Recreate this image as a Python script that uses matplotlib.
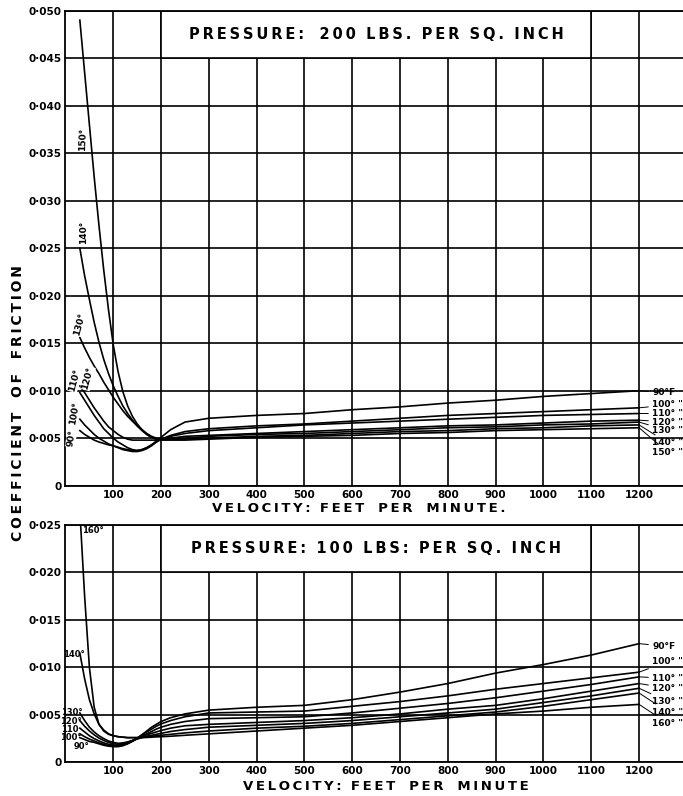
import matplotlib
matplotlib.use("Agg")
import matplotlib.pyplot as plt
from matplotlib.patches import Rectangle
from matplotlib.ticker import FuncFormatter
import numpy as np

# velocity grid (feet per minute) shared by every curve
velocity = [30, 40, 50, 60, 70, 80, 90, 100, 110, 120, 130, 140, 150, 160, 170,
            180, 190, 200, 220, 250, 300, 400, 500, 600, 700, 800, 900, 1000,
            1100, 1200]

# coefficient of friction, in units of 0.001
# pressure 200 lbs per sq. inch
p200_90 = [5.8, 5.4, 5.1, 4.8, 4.6, 4.45, 4.3, 4.2, 4.05, 3.9, 3.8, 3.7, 3.7, 3.8, 4.0,
           4.3, 4.7, 5.1, 5.9, 6.7, 7.1, 7.4, 7.6, 8.0, 8.3, 8.7, 9.0, 9.4, 9.7, 10.0]
p200_100 = [7.0, 6.4, 5.9, 5.4, 5.0, 4.7, 4.4, 4.2, 4.0, 3.8, 3.7, 3.6, 3.6, 3.7, 3.9,
            4.2, 4.6, 4.9, 5.3, 5.7, 6.0, 6.3, 6.5, 6.8, 7.1, 7.4, 7.6, 7.8, 8.0, 8.2]
p200_110 = [9.8, 9.0, 8.2, 7.4, 6.7, 6.0, 5.5, 5.0, 4.6, 4.3, 4.0, 3.8, 3.7, 3.8, 4.0,
            4.3, 4.6, 4.9, 5.2, 5.5, 5.8, 6.1, 6.4, 6.6, 6.8, 7.0, 7.2, 7.4, 7.5, 7.6]
p200_120 = [10.5, 9.8, 9.0, 8.2, 7.5, 6.8, 6.2, 5.8, 5.4, 5.1, 4.9, 4.8, 4.8, 4.8, 4.8,
            4.8, 4.8, 4.9, 5.0, 5.2, 5.3, 5.5, 5.7, 5.9, 6.1, 6.3, 6.4, 6.6, 6.8, 6.9]
p200_130 = [15.6, 14.5, 13.5, 12.6, 11.8, 10.9, 10.1, 9.3, 8.6, 7.9, 7.3, 6.8, 6.3, 5.9, 5.5,
            5.2, 5.0, 4.9, 4.9, 5.0, 5.2, 5.4, 5.5, 5.7, 5.9, 6.1, 6.2, 6.4, 6.5, 6.7]
p200_140 = [25.0, 22.1, 19.6, 17.2, 15.1, 13.3, 11.8, 10.5, 9.4, 8.4, 7.6, 6.9, 6.3, 5.8, 5.4,
            5.1, 4.9, 4.9, 4.9, 4.9, 5.0, 5.2, 5.3, 5.5, 5.7, 5.8, 6.0, 6.1, 6.3, 6.4]
p200_150 = [49.0, 43.5, 38.0, 32.5, 27.4, 22.7, 18.5, 14.8, 12.0, 9.9, 8.4, 7.3, 6.5, 5.9, 5.4,
            5.1, 4.9, 4.8, 4.8, 4.8, 4.9, 5.1, 5.2, 5.3, 5.5, 5.6, 5.8, 5.9, 6.0, 6.1]

# pressure 100 lbs per sq. inch
p100_90 = [2.6, 2.4, 2.2, 2.1, 1.95, 1.8, 1.7, 1.65, 1.65, 1.75, 1.95, 2.2, 2.5, 2.9, 3.3,
           3.7, 4.0, 4.3, 4.7, 5.1, 5.5, 5.8, 6.0, 6.6, 7.4, 8.3, 9.4, 10.3, 11.3, 12.5]
p100_100 = [3.0, 2.7, 2.45, 2.25, 2.05, 1.9, 1.75, 1.7, 1.7, 1.8, 2.0, 2.25, 2.55, 2.9, 3.2,
            3.5, 3.8, 4.05, 4.4, 4.8, 5.2, 5.3, 5.4, 5.9, 6.4, 7.0, 7.7, 8.3, 8.9, 9.5]
p100_110 = [3.6, 3.2, 2.8, 2.5, 2.25, 2.05, 1.9, 1.8, 1.8, 1.85, 2.0, 2.25, 2.55, 2.8, 3.0,
            3.25, 3.5, 3.7, 4.0, 4.3, 4.6, 4.7, 4.8, 5.2, 5.7, 6.2, 6.8, 7.5, 8.2, 9.0]
p100_120 = [4.4, 3.8, 3.3, 2.9, 2.55, 2.3, 2.1, 1.95, 1.9, 1.95, 2.1, 2.3, 2.5, 2.7, 2.9,
            3.05, 3.2, 3.35, 3.6, 3.85, 4.0, 4.2, 4.4, 4.7, 5.1, 5.6, 6.0, 6.7, 7.5, 8.3]
p100_130 = [5.2, 4.4, 3.7, 3.2, 2.8, 2.5, 2.25, 2.1, 2.0, 2.05, 2.15, 2.3, 2.45, 2.6, 2.75,
            2.85, 2.95, 3.05, 3.25, 3.45, 3.7, 3.9, 4.1, 4.4, 4.8, 5.2, 5.6, 6.3, 7.0, 7.8]
p100_140 = [11.5, 8.8, 6.6, 5.1, 4.0, 3.4, 3.0, 2.8, 2.7, 2.65, 2.6, 2.6, 2.6, 2.65, 2.7,
            2.75, 2.8, 2.85, 2.95, 3.1, 3.3, 3.6, 3.8, 4.1, 4.5, 4.9, 5.3, 5.9, 6.6, 7.3]
p100_160 = [26.5, 17.5, 10.0, 5.8, 4.0, 3.3, 2.95, 2.8, 2.7, 2.65, 2.6, 2.6, 2.6, 2.6, 2.62,
            2.65, 2.68, 2.7, 2.75, 2.85, 3.0, 3.3, 3.6, 3.9, 4.3, 4.7, 5.1, 5.4, 5.8, 6.1]

top_curves = [p200_90, p200_100, p200_110, p200_120, p200_130, p200_140, p200_150]
bottom_curves = [p100_90, p100_100, p100_110, p100_120, p100_130, p100_140, p100_160]

# right-hand labels and the friction (x 0.001) where each label sits
top_right_labels = ["90°F", "100° \"", "110° \"", "120° \"", "130° \"", "140° \"", "150° \""]
top_right_pos = [9.8, 8.5, 7.6, 6.7, 5.8, 4.5, 3.5]
bottom_right_labels = ["90°F", "100° \"", "110° \"", "120° \"", "130° \"", "140° \"", "160° \""]
bottom_right_pos = [12.25, 10.6, 8.85, 7.8, 6.4, 5.3, 4.1]

# left-hand labels: text, velocity, friction (x 0.001), rotation
top_left_labels = ["150°", "140°", "130°", "120°", "110°", "100°", "90°"]
top_left_v = [37, 37, 30, 47, 20, 18, 12]
top_left_f = [36.5, 26.7, 17.0, 11.3, 11.1, 7.6, 5.0]
top_left_rot = [88, 90, 75, 75, 75, 80, 80]

bottom_left_labels = ["160°", "140°", "130°", "120°", "110", "100°", "90°"]
bottom_left_v = [58, 18, 14, 12, 10, 12, 34]
bottom_left_f = [24.4, 11.4, 5.2, 4.3, 3.5, 2.6, 1.7]

x_ticks = list(range(100, 1300, 100))


def spaced(text):
    return "\u2009".join(text)


def fmt_friction(val, pos):
    if abs(val) < 1e-9:
        return "0"
    return ("%.3f" % val).replace(".", "\u00b7")


def style_axes(ax, ymax, title):
    ax.set_xlim(0, 1300)
    ax.set_ylim(0, ymax)
    ax.set_xticks(x_ticks)
    ax.set_yticks(np.arange(0, ymax + 1e-9, 0.005))
    ax.yaxis.set_major_formatter(FuncFormatter(fmt_friction))
    ax.grid(True, color="black", linewidth=1.2)
    ax.tick_params(length=0, labelsize=7.5, pad=3)
    for lab in ax.get_xticklabels() + ax.get_yticklabels():
        lab.set_fontweight("bold")
    for sp in ax.spines.values():
        sp.set_linewidth(1.3)
    ax.spines["right"].set_visible(False)
    box = Rectangle((200, ymax - 0.005), 900, 0.005, facecolor="white",
                    edgecolor="black", linewidth=1.2, zorder=2.5)
    ax.add_patch(box)
    ax.text(650, ymax - 0.0025, title, ha="center", va="center", fontsize=10.5,
            fontweight="bold", zorder=4)


fig = plt.figure(figsize=(6.83, 7.96), dpi=100)
ax_top = fig.add_axes([0.0959, 0.3898, 0.9098, 0.5968])
ax_bot = fig.add_axes([0.0959, 0.0423, 0.9098, 0.2982])

style_axes(ax_top, 0.050, spaced("PRESSURE:") + "   " + spaced("200") + "  " + spaced("LBS.") + "  "
           + spaced("PER") + "  " + spaced("SQ.") + "  " + spaced("INCH"))
style_axes(ax_bot, 0.025, spaced("PRESSURE:") + "  " + spaced("100") + "  " + spaced("LBS:") + "  "
           + spaced("PER") + "  " + spaced("SQ.") + "  " + spaced("INCH"))

v = np.array(velocity)
for ax, curves in [(ax_top, top_curves), (ax_bot, bottom_curves)]:
    for f in curves:
        ax.plot(v, np.array(f) / 1000, color="black", linewidth=1.2, zorder=3)

# right labels with leader lines
for ax, curves, labels, pos in [(ax_top, top_curves, top_right_labels, top_right_pos),
                                (ax_bot, bottom_curves, bottom_right_labels, bottom_right_pos)]:
    for f, lab, p in zip(curves, labels, pos):
        ax.annotate(lab, xy=(1200, f[-1] / 1000), xytext=(1228, p / 1000),
                    fontsize=6.5, fontweight="bold", va="center", ha="left",
                    arrowprops=dict(arrowstyle="-", lw=0.7, color="black",
                                    shrinkA=1, shrinkB=0), zorder=4)

# left labels
for lab, xv, fv, rot in zip(top_left_labels, top_left_v, top_left_f, top_left_rot):
    ax_top.text(xv, fv / 1000, lab, rotation=rot, fontsize=6.5, fontweight="bold",
                ha="center", va="center", zorder=4,
                bbox=dict(facecolor="white", edgecolor="none", pad=0.3))
for lab, xv, fv in zip(bottom_left_labels, bottom_left_v, bottom_left_f):
    ax_bot.text(xv, fv / 1000, lab, fontsize=6, fontweight="bold",
                ha="center", va="center", zorder=4)

# axis titles
fig.text(0.525, 1 - 508 / 796, spaced("VELOCITY:") + "  " + spaced("FEET") + "   "
         + spaced("PER") + "   " + spaced("MINUTE."), ha="center", va="center",
         fontsize=9.5, fontweight="bold")
fig.text(0.565, 1 - 787 / 796, spaced("VELOCITY:") + "  " + spaced("FEET") + "   "
         + spaced("PER") + "   " + spaced("MINUTE"), ha="center", va="center",
         fontsize=9.5, fontweight="bold")
fig.text(0.026, 1 - 403 / 796, spaced("COEFFICIENT") + "   " + spaced("OF") + "   "
         + spaced("FRICTION"), rotation=90, ha="center", va="center",
         fontsize=10, fontweight="bold")

fig.savefig("out.png", dpi=100)
